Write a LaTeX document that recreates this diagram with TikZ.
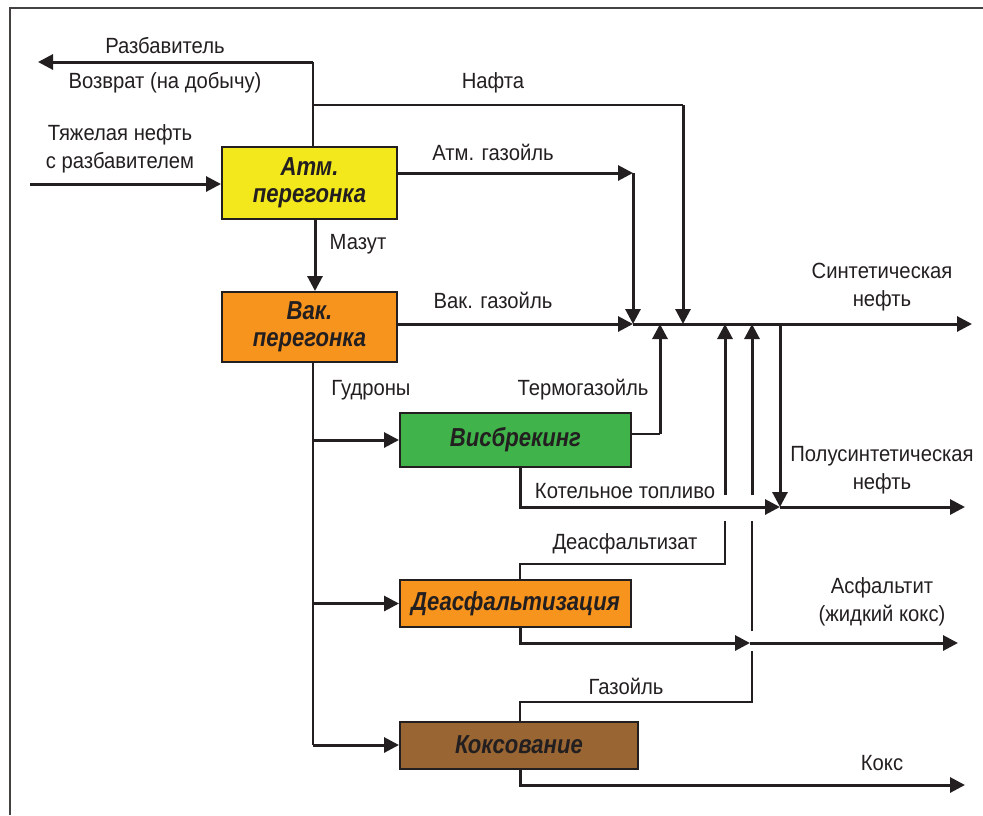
\documentclass[tikz,border=0pt]{standalone}
\usepackage{fontspec}
\setmainfont{Liberation Sans}[FakeStretch=0.92]
\newfontfamily\bxfont{Liberation Sans}[FakeStretch=0.85]
\usetikzlibrary{arrows.meta}
\definecolor{cyel}{HTML}{F2E81C}
\definecolor{cora}{HTML}{F7941D}
\definecolor{cgrn}{HTML}{40B44A}
\definecolor{cbrn}{HTML}{996633}
\definecolor{cline}{HTML}{231F20}
\tikzset{
  proc/.style={draw=cline, line width=2pt, inner sep=0pt, align=center,
    font=\bxfont\bfseries\itshape\fontsize{26}{27}\selectfont, text=cline},
  flow/.style={draw=cline, line width=3pt},
  thin/.style={draw=cline, line width=2pt},
  arr/.style={-{Triangle[length=15pt,width=15pt]}},
  lbl/.style={font=\fontsize{22}{28}\selectfont, text=cline, align=center, inner sep=0pt}
}
\begin{document}
\begin{tikzpicture}[x=1pt,y=-1pt]
\useasboundingbox (0,0) rectangle (983,815);
% frame
\draw[line width=2.5pt, draw=cline!85] (10,815) -- (10,8) -- (983,8);

% process boxes
\node[proc, fill=cyel, minimum width=175pt, minimum height=72pt] (atm) at (309.5,183) {Атм.\\перегонка};
\node[proc, fill=cora, minimum width=175pt, minimum height=70pt] (vak) at (309.5,327) {Вак.\\перегонка};
\node[proc, fill=cgrn, minimum width=231pt, minimum height=54pt] (vis) at (515.5,440) {Висбрекинг};
\node[proc, fill=cora, minimum width=231pt, minimum height=47pt] (dea) at (515.5,603.5) {Деасфальтизация};
\node[proc, fill=cbrn, minimum width=238pt, minimum height=47pt] (kok) at (519,745) {Коксование};

% coordinates
\coordinate (in0) at (30,184);
\coordinate (r0) at (313,62);
\coordinate (rL) at (38,62);
\coordinate (n0) at (313,105);
\coordinate (n1) at (683,105);
\coordinate (a1) at (633,173);
\coordinate (j1) at (633,324);
\coordinate (j2) at (683,324);
\coordinate (j3) at (660,324);
\coordinate (j4) at (725,324);
\coordinate (j5) at (752,324);
\coordinate (j6) at (780,324);
\coordinate (sE) at (972,324);
\coordinate (t1) at (660,434);
\coordinate (k1) at (780,507);
\coordinate (kE) at (965,507);
\coordinate (d1) at (725,564);
\coordinate (d2) at (725,521);
\coordinate (d3) at (725,495);
\coordinate (g1) at (752,702);
\coordinate (g2) at (752,651);
\coordinate (g3) at (752,631);
\coordinate (g4) at (752,521);
\coordinate (g5) at (752,495);
\coordinate (s1) at (750,643);
\coordinate (sA) at (958,643);
\coordinate (kk) at (965,785);
\coordinate (gT) at (313,362);
\coordinate (gB) at (313,745);

% input
\draw[flow, arr] (in0) -- (atm.west |- in0);
% razbavitel + nafta
\draw[thin] (atm.north -| r0) -- (r0);
\draw[flow, arr] (r0) -- (rL);
\draw[thin] (n0) -- (n1);
\draw[flow, arr] (n1) -- (j2);
% atm gasoil
\draw[flow, arr] (atm.east |- a1) -- (a1);
\draw[flow, arr] (a1) -- (j1);
% mazut
\draw[flow, arr] (atm.south -| 315,0) -- (vak.north -| 315,0);
% vak gasoil and synthetic oil
\draw[flow, arr] (vak.east |- j1) -- (j1);
\draw[flow, arr] (j1) -- (sE);
% gudrony
\draw[thin] (vak.south -| gT) -- (gB);
\draw[flow, arr] (313,440) -- (vis.west);
\draw[flow, arr] (313,603.5) -- (dea.west);
\draw[flow, arr] (gB) -- (kok.west);
% termogazoil
\draw[thin] (vis.east |- t1) -- (t1);
\draw[flow, arr] (t1) -- (j3);
% kotelnoe toplivo
\draw[flow, arr] (vis.south -| 520,0) |- (k1);
\draw[flow, arr] (k1) -- (kE);
\draw[flow, arr] (j6) -- (k1);
% deasfaltizat
\draw[thin] (dea.north -| 520,0) |- (d1) -- (d2);
\draw[flow, arr] (d3) -- (j4);
% gazoil
\draw[thin] (kok.north -| 520,0) |- (g1) -- (g2);
\draw[thin] (g3) -- (g4);
\draw[flow, arr] (g5) -- (j5);
% asfaltit
\draw[flow, arr] (dea.south -| 520,0) |- (s1);
\draw[flow, arr] (s1) -- (sA);
% koks
\draw[flow, arr] (kok.south -| 520,0) |- (kk);

% labels
\node[lbl] (l1) at (165,46) {Разбавитель};
\node[lbl] (l2) at (165,83) {Возврат (на добычу)};
\node[lbl] (l3) at (120,148.5) {Тяжелая нефть\\с разбавителем};
\node[lbl] (l4) at (493,83) {Нафта};
\node[lbl] (l5) at (493,152) {Атм. газойль};
\node[lbl] (l6) at (358,244) {Мазут};
\node[lbl] (l7) at (493,300) {Вак. газойль};
\node[lbl] (l8) at (882,287) {Синтетическая\\нефть};
\node[lbl] (l9) at (371,390) {Гудроны};
\node[lbl] (l10) at (583,390) {Термогазойль};
\node[lbl] (l11) at (882,470) {Полусинтетическая\\нефть};
\node[lbl] (l12) at (625,491) {Котельное топливо};
\node[lbl] (l13) at (625,544) {Деасфальтизат};
\node[lbl] (l14) at (882,602) {Асфальтит\\(жидкий кокс)};
\node[lbl] (l15) at (626,686) {Газойль};
\node[lbl] (l16) at (882,763) {Кокс};
\end{tikzpicture}
\end{document}
